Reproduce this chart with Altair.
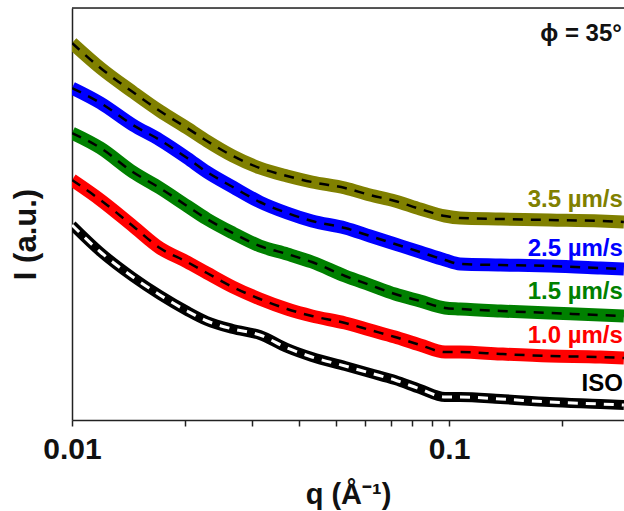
import altair as alt
import pandas as pd

# q values (Å^-1)
q = [0.0100, 0.0119, 0.0145, 0.0171, 0.0202, 0.0228, 0.0267, 0.0315, 0.0372, 0.0433,
     0.0530, 0.0617, 0.0719, 0.0838, 0.0976, 0.107, 0.137, 0.185, 0.252, 0.291]

# Intensities (arbitrary units, vertically offset)
I_35 = [377, 352, 328, 309, 292, 279, 264, 252, 244, 238, 232, 225, 219, 211, 204, 202, 201, 200, 199, 198]
I_25 = [332, 317, 295, 280, 262, 248, 233, 218, 207, 199, 192, 184, 176, 168, 160, 156, 155, 154, 152, 151]
I_15 = [287, 272, 248, 232, 214, 201, 187, 174, 166, 158, 144, 135, 126, 119, 112, 111, 109, 107, 105, 104]
I_10 = [240, 220, 194, 172, 158, 147, 133, 121, 111, 104, 97, 90, 83, 75, 68, 68, 66, 64, 63, 62]
I_iso = [195, 168, 143, 125, 109, 99, 91, 85, 72, 63, 54, 47, 40, 31, 23, 23, 21, 18, 16, 15]

series_names = ["3.5 µm/s", "2.5 µm/s", "1.5 µm/s", "1.0 µm/s", "ISO"]
series_values = [I_35, I_25, I_15, I_10, I_iso]
series_colors = ["#808000", "#0000ff", "#008000", "#ff0000", "#000000"]

# label positions (q at right edge, intensity at label baseline)
label_I = [213, 164, 121, 77, 29]

x_ticks = [0.01, 0.02, 0.03, 0.04, 0.05, 0.06, 0.07, 0.08, 0.09, 0.1, 0.2]

rows = []
for name, vals in zip(series_names, series_values):
    for qq, ii in zip(q, vals):
        rows.append({"q": qq, "I": ii, "series": name})
df = pd.DataFrame(rows)

lab = pd.DataFrame({"q": [q[-1]] * len(series_names), "I": label_I,
                    "series": series_names})
phi = pd.DataFrame({"q": [q[-1]], "I": [379], "t": ["ϕ = 35°"]})

FONT = "Liberation Sans"

xscale = alt.Scale(type="log", domain=[0.01, 0.2912], nice=False)
yscale = alt.Scale(domain=[0, 412], nice=False, zero=False)
cscale = alt.Scale(domain=series_names, range=series_colors)

xaxis = alt.Axis(values=x_ticks,
                 labelExpr="abs(datum.value-0.01)<1e-9 ? '0.01' : (abs(datum.value-0.1)<1e-9 ? '0.1' : '')",
                 labelFont=FONT, labelFontSize=30, labelFontWeight="bold", labelColor="#111111",
                 labelFlush=False, labelOverlap=False,
                 labelPadding=8, tickSize=6, tickColor="#222222", tickWidth=1.5,
                 domainColor="#222222", domainWidth=1.5, grid=False,
                 title="q (Å⁻¹)", titleFont=FONT, titleFontSize=29, titleFontWeight="bold",
                 titleColor="#111111", titleBaseline="alphabetic", titleY=83)
yaxis = alt.Axis(labels=False, ticks=False, grid=False, domainColor="#222222", domainWidth=1.5,
                 title="I (a.u.)", titleFont=FONT, titleFontSize=31, titleFontWeight="bold",
                 titleColor="#111111", titleAngle=270, titleBaseline="alphabetic",
                 titleAlign="center", titleX=-37, titleY=226)

base = alt.Chart(df)

bands = base.transform_filter(alt.datum.series != "ISO").mark_line(
    strokeWidth=13, clip=True, strokeJoin="round", interpolate="monotone").encode(
    x=alt.X("q:Q", scale=xscale, axis=xaxis),
    y=alt.Y("I:Q", scale=yscale, axis=yaxis),
    color=alt.Color("series:N", scale=cscale, legend=None),
)
iso_band = base.transform_filter(alt.datum.series == "ISO").mark_line(
    strokeWidth=10, clip=True, color="#000000", strokeJoin="round",
    interpolate="monotone").encode(x="q:Q", y="I:Q")

fits = base.transform_filter(alt.datum.series != "ISO").mark_line(
    strokeWidth=2.5, clip=True, color="#000000", strokeDash=[10, 8],
    interpolate="monotone").encode(x="q:Q", y="I:Q", detail="series:N")
iso_fit = base.transform_filter(alt.datum.series == "ISO").mark_line(
    strokeWidth=3, clip=True, color="#ffffff", strokeDash=[10, 8],
    interpolate="monotone").encode(x="q:Q", y="I:Q")

labels = alt.Chart(lab).mark_text(font=FONT, fontSize=24, fontWeight="bold", align="right",
                                   baseline="alphabetic", dx=-1).encode(
    x="q:Q", y="I:Q", text="series:N",
    color=alt.Color("series:N", scale=cscale, legend=None))

phi_text = alt.Chart(phi).mark_text(font=FONT, fontSize=24, fontWeight="bold", align="right",
                                     baseline="alphabetic", dx=-2, color="#111111").encode(
    x="q:Q", y="I:Q", text="t:N")

top_rule = alt.Chart(phi).mark_rule(color="#222222", strokeWidth=1.5).encode(
    y=alt.value(0), x=alt.value(0), x2=alt.value(552))

chart = alt.layer(bands, iso_band, fits, iso_fit, labels, phi_text, top_rule).properties(
    width=552, height=412,
    autosize=alt.AutoSizeParams(type="none"),
    padding={"left": 72, "top": 8, "right": 0, "bottom": 91},
).configure_view(stroke=None).configure(background="white")

chart.save("out.html", embed_options={"renderer": "svg", "actions": False})
